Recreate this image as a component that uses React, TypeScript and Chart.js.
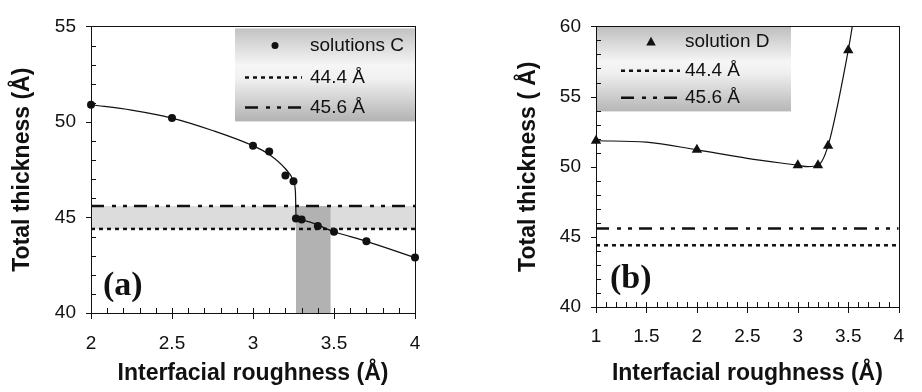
import React, { useEffect, useRef } from 'react';
import { Chart, registerables } from 'chart.js';

Chart.register(...registerables);

// ---------- data ----------
const xC = [2, 2.5, 3.0, 3.1, 3.2, 3.25, 3.265, 3.3, 3.4, 3.5, 3.7, 4.0];
const yC = [50.9, 50.2, 48.75, 48.45, 47.2, 46.9, 44.95, 44.9, 44.55, 44.25, 43.75, 42.9];
// fitted curve through solutions C, as traced on the picture
const fitCX = [2, 2.25, 2.5, 2.75, 3.0, 3.1, 3.2, 3.25, 3.262, 3.266, 3.3, 3.5, 3.7, 4.0];
const fitCY = [50.9, 50.62, 50.2, 49.55, 48.75, 48.3, 47.55, 46.9, 46.3, 44.95, 44.85, 44.25, 43.75, 42.9];

const xD = [1, 2, 3, 3.2, 3.3, 3.5];
const yD = [51.85, 51.2, 50.1, 50.1, 51.5, 58.3];
const fitDX = [1, 1.5, 2, 2.5, 3, 3.1, 3.2, 3.3, 3.5, 3.54];
const fitDY = [51.85, 51.75, 51.2, 50.6, 50.1, 50.0, 50.1, 51.5, 58.3, 60];

const refLow = 44.4;
const refHigh = 45.6;
const bandCx = [3.265, 3.48];

const xRangeA = [2, 4];
const yRangeA = [40, 55];
const xRangeB = [1, 4];
const yRangeB = [40, 60];

const legendA = ['solutions C', '44.4 Å', '45.6 Å'];
const legendB = ['solution D', '44.4 Å', '45.6 Å'];
const xTitle = 'Interfacial roughness (Å)';
const yTitleA = 'Total thickness (Å)';
const yTitleB = 'Total thickness ( Å)';
const panelA = '(a)';
const panelB = '(b)';

// ---------- styling ----------
const INK = '#111';
const SANS = '"Liberation Sans", Arial, Helvetica, sans-serif';
const tickFont = { family: SANS, size: 19 };
const titleFont = { family: SANS, size: 23, weight: 'bold' as const };
const DOTTED = [4, 4];
const DASHDOT = [13, 8, 4, 7, 4, 7];

const xy = (xs: number[], ys: number[]) => xs.map((x, i) => ({ x, y: ys[i] }));
const isMult = (v: number, m: number) => Math.abs(v / m - Math.round(v / m)) < 1e-6;

const decoPlugin = {
  id: 'deco',
  afterDatasetsDraw(chart: any, _args: any, o: any) {
    const ctx: CanvasRenderingContext2D = chart.ctx;
    const { left, right, top, bottom } = chart.chartArea;
    const xs = chart.scales.x;
    const ys = chart.scales.y;
    ctx.save();

    // legend box
    const bx = left + o.boxLeft;
    const by = top + o.boxTop;
    const g = ctx.createLinearGradient(0, by, 0, by + o.boxH);
    o.grad.forEach((s: [number, string]) => g.addColorStop(s[0], s[1]));
    ctx.fillStyle = g;
    ctx.fillRect(bx, by, o.boxW, o.boxH);

    ctx.font = `19px ${SANS}`;
    ctx.textBaseline = 'middle';
    ctx.textAlign = 'left';
    ctx.fillStyle = INK;
    const my = top + o.rows[0];
    const mx = left + o.markerX;
    ctx.beginPath();
    if (o.marker === 'circle') {
      ctx.arc(mx, my, 3.5, 0, Math.PI * 2);
    } else {
      const r = 5;
      ctx.moveTo(mx, my - r);
      ctx.lineTo(mx + r * 0.95, my + r * 0.75);
      ctx.lineTo(mx - r * 0.95, my + r * 0.75);
      ctx.closePath();
    }
    ctx.fill();
    ctx.fillText(o.labels[0], left + o.textX, my);
    const dashes = [DOTTED, DASHDOT];
    for (let i = 1; i < 3; i++) {
      const yy = top + o.rows[i];
      ctx.beginPath();
      ctx.setLineDash(dashes[i - 1]);
      ctx.lineWidth = 2.5;
      ctx.strokeStyle = INK;
      ctx.moveTo(left + o.lineX1, yy);
      ctx.lineTo(left + o.lineX2, yy);
      ctx.stroke();
      ctx.setLineDash([]);
      ctx.fillText(o.labels[i], left + o.textX, yy);
    }

    // panel label
    ctx.font = `bold 34px "Liberation Serif", "Times New Roman", serif`;
    ctx.fillText(o.panel, left + o.panelX, bottom - o.panelY);

    // frame
    ctx.strokeStyle = INK;
    ctx.lineWidth = 1;
    ctx.strokeRect(Math.round(left) + 0.5, Math.round(top) + 0.5, Math.round(right - left), Math.round(bottom - top));

    // ticks
    ctx.beginPath();
    ys.ticks.forEach((t: any) => {
      const p = Math.round(ys.getPixelForValue(t.value)) + 0.5;
      if (isMult(t.value, 5)) {
        ctx.moveTo(left - 5, p);
        ctx.lineTo(left, p);
      } else {
        ctx.moveTo(left, p);
        ctx.lineTo(left + 5, p);
      }
    });
    xs.ticks.forEach((t: any) => {
      const p = Math.round(xs.getPixelForValue(t.value)) + 0.5;
      if (isMult(t.value, 0.5)) {
        ctx.moveTo(p, bottom - 5);
        ctx.lineTo(p, bottom + 6);
      } else {
        ctx.moveTo(p, bottom - 5);
        ctx.lineTo(p, bottom);
      }
    });
    ctx.stroke();
    ctx.restore();
  },
};

function makeConfig(p: any): any {
  return {
    type: 'scatter',
    data: { datasets: p.datasets },
    plugins: [decoPlugin],
    options: {
      animation: false,
      responsive: false,
      maintainAspectRatio: false,
      events: [],
      layout: { padding: { left: p.padLeft, right: p.padRight, top: p.padTop, bottom: 0 } },
      plugins: { legend: { display: false }, tooltip: { enabled: false }, deco: p.deco },
      scales: {
        x: {
          type: 'linear',
          min: p.xRange[0],
          max: p.xRange[1],
          afterFit: (s: any) => { s.height = p.xH; },
          grid: { display: false, drawTicks: false, tickLength: 0 },
          border: { display: false },
          ticks: {
            stepSize: 0.1,
            autoSkip: false,
            maxRotation: 0,
            padding: p.xPad,
            font: tickFont,
            color: INK,
            callback: (v: number) => (isMult(v, 0.5) ? String(Math.round(v * 10) / 10) : ''),
          },
          title: { display: true, text: xTitle, font: titleFont, color: INK, padding: { top: 0, bottom: 5 } },
        },
        y: {
          type: 'linear',
          min: p.yRange[0],
          max: p.yRange[1],
          afterFit: (s: any) => { s.width = p.yW; },
          grid: { display: false, drawTicks: false, tickLength: 0 },
          border: { display: false },
          ticks: {
            stepSize: 1,
            autoSkip: false,
            padding: 15,
            font: tickFont,
            color: INK,
            callback: (v: number) => (isMult(v, 5) ? String(v) : ''),
          },
          title: { display: true, text: p.yTitle, font: titleFont, color: INK, padding: { top: p.yTitlePad, bottom: 0 } },
        },
      },
    },
  };
}

const hLine = (x0: number, x1: number, y: number, dash: number[]) => ({
  data: [{ x: x0, y }, { x: x1, y }],
  showLine: true,
  borderColor: INK,
  borderWidth: 2.5,
  borderDash: dash,
  pointRadius: 0,
  fill: false,
});

const band = (x0: number, x1: number, y: number, base: number, color: string) => ({
  data: [{ x: x0, y }, { x: x1, y }],
  showLine: true,
  borderColor: 'rgba(0,0,0,0)',
  borderWidth: 1,
  pointRadius: 0,
  backgroundColor: color,
  fill: { value: base },
});

const curve = (xs: number[], ys: number[]) => ({
  data: xy(xs, ys),
  showLine: true,
  cubicInterpolationMode: 'monotone',
  borderColor: INK,
  borderWidth: 1.2,
  pointRadius: 0,
  clip: false,
});

const configA = makeConfig({
  xRange: xRangeA,
  yRange: yRangeA,
  padLeft: 0,
  padRight: 46,
  padTop: 16,
  xH: 79,
  yW: 91,
  xPad: 19,
  yTitle: yTitleA,
  yTitlePad: 9,
  datasets: [
    {
      data: xy(xC, yC),
      showLine: false,
      pointRadius: 4,
      pointBackgroundColor: INK,
      pointBorderColor: INK,
      pointBorderWidth: 0,
      clip: false,
    },
    curve(fitCX, fitCY),
    hLine(xRangeA[0], xRangeA[1], refHigh, DASHDOT),
    hLine(xRangeA[0], xRangeA[1], refLow, DOTTED),
    band(bandCx[0], bandCx[1], refHigh, yRangeA[0], '#b2b2b2'),
    band(xRangeA[0], xRangeA[1], refHigh, refLow, '#dcdcdc'),
  ],
  deco: {
    boxLeft: 144, boxTop: 2, boxW: 180, boxH: 93,
    grad: [[0, '#c2c2c2'], [0.4, '#f6f6f6'], [0.55, '#f0f0f0'], [1, '#b2b2b2']],
    rows: [19, 51, 81],
    marker: 'circle', markerX: 184, textX: 219, lineX1: 154, lineX2: 211,
    labels: legendA, panel: panelA, panelX: 12, panelY: 27,
  },
});

const configB = makeConfig({
  xRange: xRangeB,
  yRange: yRangeB,
  padLeft: 45,
  padRight: 7,
  padTop: 18,
  xH: 85,
  yW: 90,
  xPad: 18,
  yTitle: yTitleB,
  yTitlePad: 8.5,
  datasets: [
    {
      data: xy(xD, yD),
      showLine: false,
      pointStyle: 'triangle',
      pointRadius: 6,
      pointBackgroundColor: INK,
      pointBorderColor: INK,
      pointBorderWidth: 0,
      clip: false,
    },
    curve(fitDX, fitDY),
    hLine(xRangeB[0], xRangeB[1], refHigh, DASHDOT),
    hLine(xRangeB[0], xRangeB[1], refLow, DOTTED),
  ],
  deco: {
    boxLeft: 0, boxTop: 0, boxW: 195, boxH: 85,
    grad: [[0, '#bebebe'], [0.42, '#f6f6f6'], [0.55, '#efefef'], [1, '#b6b6b6']],
    rows: [15.3, 44.3, 71.3],
    marker: 'triangle', markerX: 55, textX: 89, lineX1: 25, lineX2: 84,
    labels: legendB, panel: panelB, panelX: 14, panelY: 28,
  },
});

function ChartCanvas({ config, width, height }: { config: any; width: number; height: number }) {
  const ref = useRef<HTMLCanvasElement | null>(null);
  useEffect(() => {
    if (!ref.current) return;
    const chart = new Chart(ref.current, config);
    return () => chart.destroy();
  }, [config]);
  return <canvas ref={ref} width={width} height={height} style={{ display: 'block', width, height }} />;
}

export default function App() {
  return (
    <div
      style={{
        position: 'fixed',
        left: 0,
        top: 0,
        width: 922,
        height: 392,
        display: 'flex',
        background: '#fff',
      }}
    >
      <ChartCanvas config={configA} width={461} height={392} />
      <ChartCanvas config={configB} width={461} height={392} />
    </div>
  );
}
